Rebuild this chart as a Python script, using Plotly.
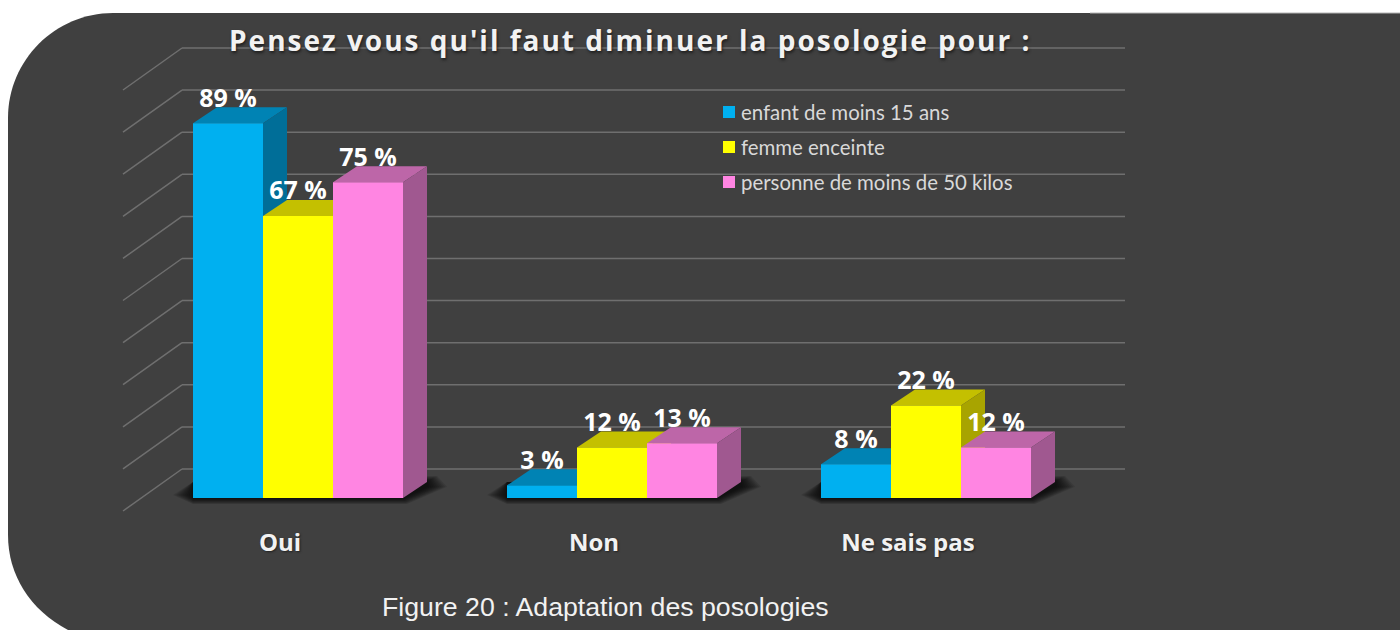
import plotly.graph_objects as go

# ---- data ----
categories = ["Oui", "Non", "Ne sais pas"]
enfant = [89, 3, 8]
femme = [67, 12, 22]
personne = [75, 13, 12]
series_names = ["enfant de moins 15 ans", "femme enceinte", "personne de moins de 50 kilos"]
grid_values = [0, 10, 20, 30, 40, 50, 60, 70, 80, 90, 100]
title_text = "Pensez vous qu'il faut diminuer la posologie pour :"
caption_text = "Figure 20 : Adaptation des posologies"

# ---- styles / layout ----
series = [enfant, femme, personne]
front = ["#00B0F0", "#FFFF00", "#FF85E2"]
top = ["#0083B4", "#C4C000", "#BD66A8"]
side = ["#006E98", "#A8A400", "#A05890"]
W, H = 1400, 630
BASE_PX, PX_PCT = 498.0, 4.21
CX0, PX_CAT, BAR_PX = 298.0, 314.0, 70.0
xr = [(0 - CX0) / PX_CAT, (W - CX0) / PX_CAT]
yr = [(BASE_PX - H) / PX_PCT, BASE_PX / PX_PCT]
bw = BAR_PX / PX_CAT
dx, dy = 24.0 / PX_CAT, 16.0 / PX_PCT
wall_dy = 29.0 / PX_PCT
GRID = "#6f6f6f"
BG = "#404040"


def px(x):
    return x / W


def py(y):
    return 1 - y / H


shapes = []
# rounded background panel
r = 105
k = 0.45 * r
shapes.append(dict(
    type="path", xref="paper", yref="paper", layer="below", line=dict(width=0), fillcolor=BG,
    path=(f"M {px(1400)} {py(13)} L {px(8 + r)} {py(13)} "
          f"C {px(8 + k)} {py(13)} {px(8)} {py(13 + k)} {px(8)} {py(13 + r)} L {px(8)} {py(535)} "
          f"C {px(8)} {py(575)} {px(30)} {py(610)} {px(68)} {py(630)} L {px(1400)} {py(630)} Z"),
))
shapes.append(dict(type="line", xref="paper", yref="paper", layer="below",
                   x0=px(1090), x1=px(1400), y0=py(13), y1=py(13),
                   line=dict(color="#b4b4b4", width=1)))

# back wall + side wall gridlines
x_wall_l = (182 - CX0) / PX_CAT
x_wall_r = (1125 - CX0) / PX_CAT
x_side = (123 - CX0) / PX_CAT
for v in grid_values:
    yv = v + wall_dy
    shapes.append(dict(type="line", xref="x", yref="y", layer="below", x0=x_wall_l, x1=x_wall_r,
                       y0=yv, y1=yv, line=dict(color=GRID, width=1.5)))
    shapes.append(dict(type="line", xref="x", yref="y", layer="below", x0=x_wall_l, x1=x_side,
                       y0=yv, y1=yv - 42.0 / PX_PCT, line=dict(color=GRID, width=1.5)))

# masks behind title and legend
for x0, x1, y0, y1 in [(220, 1041, 25, 60), (713, 1021, 98, 205)]:
    shapes.append(dict(type="rect", xref="paper", yref="paper", layer="below", line=dict(width=0),
                       fillcolor=BG, x0=px(x0), x1=px(x1), y0=py(y0), y1=py(y1)))

# soft floor shadow for each group
for i in range(len(categories)):
    l = i - 1.5 * bw
    rr = i + 1.5 * bw
    for grow in [20, 18, 16, 14, 12, 10, 8, 6, 4, 2]:
        gx, gy = grow / PX_CAT, grow * 0.3 / PX_PCT
        shapes.append(dict(
            type="path", xref="x", yref="y", layer="below", line=dict(width=0),
            fillcolor="rgba(0,0,0,0.11)",
            path=(f"M {l - gx} {3 / PX_PCT} L {l} {-gy} L {rr + 0.2 * gx} {-gy} "
                  f"L {rr + dx + gx} {dy * 0.7} L {rr + dx + 0.5 * gx} {dy + gy} L {l} {dy} Z"),
        ))

fig = go.Figure()

# depth faces, painted left to right, on the base subplot
for i in range(len(categories)):
    for s, vals in enumerate(series):
        v = vals[i]
        x0 = i + (s - 1.5) * bw
        x1 = x0 + bw
        fig.add_trace(go.Scatter(
            x=[x0, x0 + dx, x1 + dx, x1, x0], y=[v, v + dy, v + dy, v, v],
            mode="lines", fill="toself", fillcolor=top[s], line=dict(width=0),
            hoverinfo="skip", showlegend=False))
        fig.add_trace(go.Scatter(
            x=[x1, x1 + dx, x1 + dx, x1, x1], y=[v, v + dy, dy, 0, v],
            mode="lines", fill="toself", fillcolor=side[s], line=dict(width=0),
            hoverinfo="skip", showlegend=False))

# front faces, on an overlaying subplot so they sit above the depth faces
for s, vals in enumerate(series):
    fig.add_trace(go.Bar(
        x=list(range(len(categories))), y=vals, name=series_names[s],
        marker=dict(color=front[s], line=dict(width=0)),
        xaxis="x2", yaxis="y2", showlegend=False, hovertemplate="%{y} %<extra></extra>"))

# value labels
LABEL_SHIFT = 23.0 / PX_PCT
for s, vals in enumerate(series):
    fig.add_trace(go.Scatter(
        x=[i + (s - 1) * bw for i in range(len(categories))],
        y=[v + LABEL_SHIFT for v in vals],
        text=[f"{v} %" for v in vals], mode="text", textposition="middle center",
        textfont=dict(family="Open Sans", size=25, color="white", weight="bold"),
        xaxis="x2", yaxis="y2", cliponaxis=False, showlegend=False, hoverinfo="skip"))

# category labels
fig.add_trace(go.Scatter(
    x=[i - 18.0 / PX_CAT for i in range(len(categories))],
    y=[-47.0 / PX_PCT] * len(categories),
    text=categories, mode="text", textposition="middle center",
    textfont=dict(family="Open Sans", size=24, color="#f2f2f2", weight="bold",
                  shadow="1px 1px 2px #222222"),
    xaxis="x2", yaxis="y2", cliponaxis=False, showlegend=False, hoverinfo="skip"))

annotations = [
    dict(text=title_text, xref="paper", yref="paper", x=px(630), y=py(40), xanchor="center",
         yanchor="middle", showarrow=False,
         font=dict(family="Open Sans", size=28, color="#f2f2f2", weight="bold",
                   shadow="1px 2px 3px #1e1e1e")),
    dict(text=caption_text, xref="paper", yref="paper", x=px(380), y=py(607), xanchor="left",
         yanchor="middle", showarrow=False,
         font=dict(family="Liberation Sans", size=26.7, color="#f2f2f2")),
]
# legend
for s, name in enumerate(series_names):
    yc = 112 + 35 * s
    shapes.append(dict(type="rect", xref="paper", yref="paper", layer="above", line=dict(width=0),
                       fillcolor=front[s], x0=px(723), x1=px(735), y0=py(yc - 6), y1=py(yc + 6)))
    annotations.append(dict(text=name, xref="paper", yref="paper", x=px(739), y=py(yc), xanchor="left",
                            yanchor="middle", showarrow=False,
                            font=dict(family="Lato", size=20.4, color="#d9d9d9")))

axis = dict(visible=False, fixedrange=True)
fig.update_layout(
    width=W, height=H, margin=dict(l=0, r=0, t=0, b=0), autosize=False,
    paper_bgcolor="white", plot_bgcolor="rgba(0,0,0,0)",
    barmode="group", bargap=1 - 3 * bw, bargroupgap=0, showlegend=False,
    xaxis=dict(axis, range=xr), yaxis=dict(axis, range=yr),
    xaxis2=dict(axis, range=xr, overlaying="x"), yaxis2=dict(axis, range=yr, overlaying="y"),
    shapes=shapes, annotations=annotations,
)

post = """
document.body.style.margin = '0';
document.querySelectorAll('.annotation-text').forEach(function (t) {
  if (t.textContent.indexOf('Pensez') === 0) { t.style.letterSpacing = '2px'; }
});
"""
fig.write_html("out.html", post_script=post, config={"displayModeBar": False})
